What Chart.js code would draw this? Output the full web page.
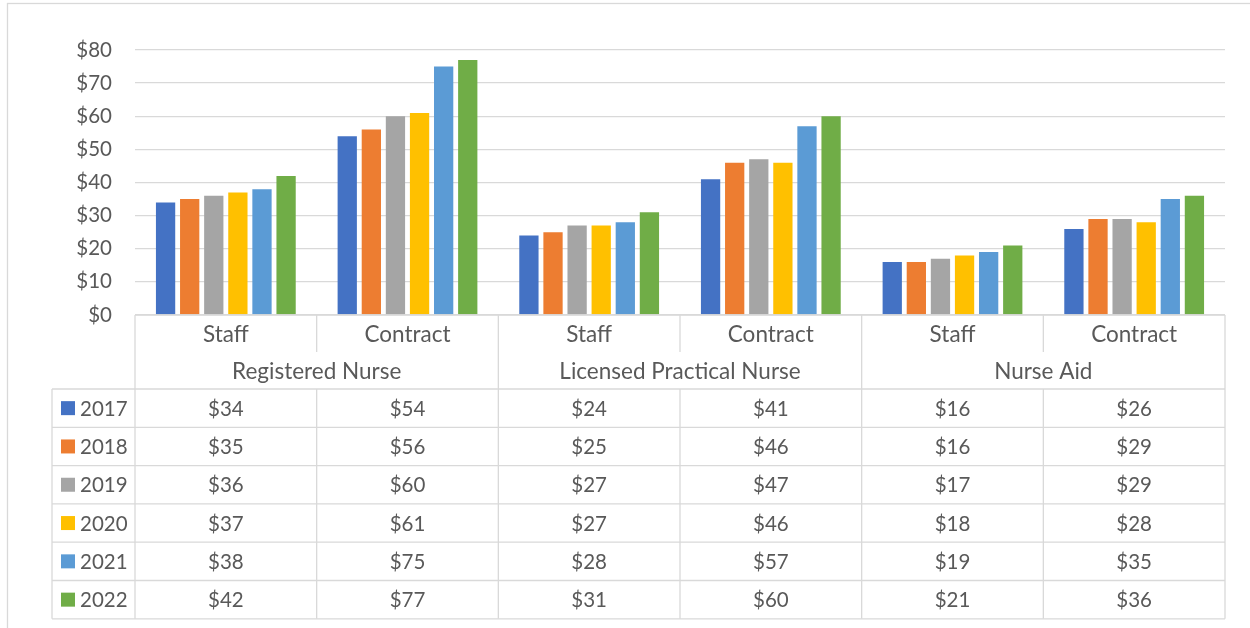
<!DOCTYPE html>
<html>
<head>
<meta charset="utf-8">
<title>Hourly wages by nurse type</title>
<script src="https://cdn.jsdelivr.net/npm/chart.js@4.4.0/dist/chart.umd.min.js"></script>
<style>
  html, body { margin: 0; padding: 0; background: #fff; }
  #wrap { width: 1250px; height: 628px; }
</style>
</head>
<body>
<div id="wrap"><canvas id="wages" width="1250" height="628"></canvas></div>
<script>
const categories = ['Staff', 'Contract', 'Staff', 'Contract', 'Staff', 'Contract'];
const groups = ['Registered Nurse', 'Licensed Practical Nurse', 'Nurse Aid'];
const years = ['2017', '2018', '2019', '2020', '2021', '2022'];

const wages2017 = [34, 54, 24, 41, 16, 26];
const wages2018 = [35, 56, 25, 46, 16, 29];
const wages2019 = [36, 60, 27, 47, 17, 29];
const wages2020 = [37, 61, 27, 46, 18, 28];
const wages2021 = [38, 75, 28, 57, 19, 35];
const wages2022 = [42, 77, 31, 60, 21, 36];

const yTicks = [0, 10, 20, 30, 40, 50, 60, 70, 80];

const series = [wages2017, wages2018, wages2019, wages2020, wages2021, wages2022];
const colors = ['#4472C4', '#ED7D31', '#A5A5A5', '#FFC000', '#5B9BD5', '#70AD47'];

const FONT = 'Lato, "Open Sans", sans-serif';
const TEXT = '#595959';
const LINE = '#D9D9D9';

// data table under the plot, lined up with the category scale
const dataTable = {
  id: 'dataTable',
  afterDraw(chart) {
    const { ctx, chartArea } = chart;
    const x = chart.scales.x;
    const left = chartArea.left, right = chartArea.right, top = chartArea.bottom;
    const n = categories.length;

    const edges = [left];
    for (let i = 0; i < n - 1; i++) {
      edges.push((x.getPixelForValue(i) + x.getPixelForValue(i + 1)) / 2);
    }
    edges.push(right);

    const headH = 37;
    const rowH = 38.3;
    const bodyTop = top + headH * 2;
    const bottom = bodyTop + rowH * years.length;
    const legendLeft = 52;

    ctx.save();
    ctx.strokeStyle = LINE;
    ctx.lineWidth = 1.3;
    const line = (x1, y1, x2, y2) => {
      ctx.beginPath(); ctx.moveTo(x1, y1); ctx.lineTo(x2, y2); ctx.stroke();
    };

    // horizontal rules
    line(left, top, right, top);
    for (let r = 0; r <= years.length; r++) {
      const y = bodyTop + r * rowH;
      line(legendLeft, y, right, y);
    }
    // vertical rules
    line(legendLeft, bodyTop, legendLeft, bottom);
    edges.forEach((ex, i) => {
      if (i % 2 === 0) {
        line(ex, top, ex, bottom);
      } else {
        line(ex, top, ex, top + headH);
        line(ex, bodyTop, ex, bottom);
      }
    });

    ctx.fillStyle = TEXT;
    ctx.textBaseline = 'middle';
    ctx.textAlign = 'center';

    const wordFont = '22.5px ' + FONT;
    const numFont = '20.5px ' + FONT;

    ctx.font = wordFont;
    categories.forEach((c, i) => {
      ctx.fillText(c, (edges[i] + edges[i + 1]) / 2, top + headH / 2 + 1);
    });
    groups.forEach((g, i) => {
      ctx.fillText(g, (edges[i * 2] + edges[i * 2 + 2]) / 2, top + headH * 1.5 + 1);
    });

    ctx.font = numFont;
    series.forEach((vals, r) => {
      const cy = bodyTop + r * rowH + rowH / 2 + 1;
      vals.forEach((v, i) => {
        ctx.fillText('$' + v, (edges[i] + edges[i + 1]) / 2, cy);
      });
      ctx.fillStyle = colors[r];
      ctx.fillRect(61, cy - 8, 14, 14);
      ctx.fillStyle = TEXT;
      ctx.textAlign = 'left';
      ctx.fillText(years[r], 80, cy);
      ctx.textAlign = 'center';
    });

    // chart frame
    ctx.strokeStyle = LINE;
    ctx.lineWidth = 1.3;
    ctx.strokeRect(7.5, 3.5, 1400, 800);
    ctx.restore();
  }
};

new Chart(document.getElementById('wages'), {
  type: 'bar',
  data: {
    labels: categories,
    datasets: years.map((yr, i) => ({
      label: yr,
      data: series[i],
      backgroundColor: colors[i],
      borderWidth: 0,
      categoryPercentage: 0.796,
      barPercentage: 0.8
    }))
  },
  options: {
    responsive: false,
    animation: false,
    layout: { padding: { top: 50, right: 25, bottom: 313, left: 0 } },
    plugins: {
      legend: { display: false },
      tooltip: { enabled: false }
    },
    scales: {
      x: { display: false },
      y: {
        min: 0,
        max: 80,
        afterBuildTicks: scale => { scale.ticks = yTicks.map(v => ({ value: v })); },
        afterFit: scale => { scale.width = 135; },
        border: { display: false },
        grid: { color: LINE, lineWidth: 1.3, drawTicks: false },
        ticks: {
          color: TEXT,
          padding: 23,
          font: { family: FONT, size: 20.5 },
          callback: v => '$' + v
        }
      }
    }
  },
  plugins: [dataTable]
});
</script>
</body>
</html>
